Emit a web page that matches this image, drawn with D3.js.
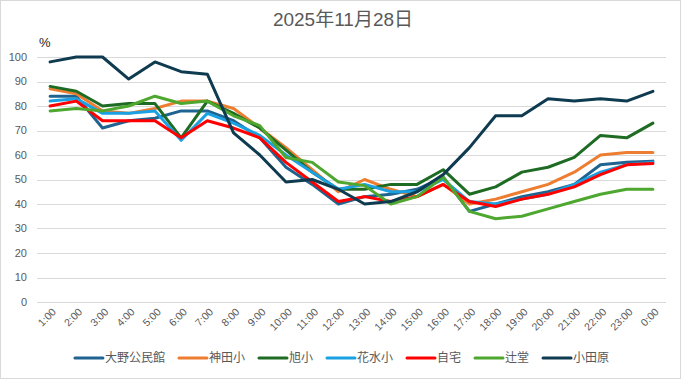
<!DOCTYPE html>
<html>
<head>
<meta charset="utf-8">
<script src="https://cdn.jsdelivr.net/npm/d3@7"></script>
<style>
body{margin:0;background:#fff;}
svg{display:block;}
</style>
</head>
<body>
<div id="chart"></div>
<script>
// data
var hours = ['1:00','2:00','3:00','4:00','5:00','6:00','7:00','8:00','9:00','10:00','11:00','12:00',
	'13:00','14:00','15:00','16:00','17:00','18:00','19:00','20:00','21:00','22:00','23:00','0:00'];
var yTicks = [0,10,20,30,40,50,60,70,80,90,100];
var seriesNames = ['大野公民館','神田小','旭小','花水小','自宅','辻堂','小田原'];
var seriesColors = ['#1f6391','#ed7d31','#1e6b24','#1ba1e2','#ff0000','#4ea72e','#0e3b50'];

var oono     = [84,84,71,74,75,78,78,74,67,55,48,40,43,44,46,51,37,40,43,45,48,56,57,57.5];
var kanda    = [87,85,78,77,79,82,82,79,71,63,54,45,50,46,43,48,40,42,45,48,53,60,61,61];
var asahi    = [88,86,80,81,81,67,82,77,71,62,53,46,46,48,48,54,44,47,53,55,59,68,67,73];
var hanamizu = [82,83,77,77,78,66,77,73,68,60,53,46,48,45,45,50,41,40,42,44,48,53,56,57];
var jitaku   = [80,82,74,74,74,67,74,71,67,57,49,41,43,41,43,48,41,39,42,44,47,52,56,56.5];
var tsujido  = [78,79,78,80,84,81,82,76,72,59,57,49,47.5,40,43,51,37,34,35,38,41,44,46,46];
var odawara  = [98,100,100,91,98,94,93,69,60,49,50,46,40,41,45,52,63,76,76,83,82,83,82,86];

var seriesValues = [oono, kanda, asahi, hanamizu, jitaku, tsujido, odawara];

var W = 681, H = 379;
var textColor = '#595959';
var font = '"Liberation Sans", Arial, "Noto Sans CJK JP", sans-serif';

var svg = d3.select('#chart').append('svg')
	.attr('width', W)
	.attr('height', H);

svg.append('rect')//border
	.attr('x', 0.5).attr('y', 0.5)
	.attr('width', W - 1).attr('height', H - 1)
	.attr('fill', '#fff')
	.attr('stroke', '#d9d9d9');

var x = d3.scalePoint().domain(hours).range([37, 666]).padding(0.5);
var y = d3.scaleLinear().domain([0, 100]).range([302, 57]);

// grid
svg.append('g')
	.selectAll('line')
	.data(yTicks)
	.join('line')
	.attr('x1', 37).attr('x2', 666)
	.attr('y1', function(d){ return Math.round(y(d)) + 0.5; })
	.attr('y2', function(d){ return Math.round(y(d)) + 0.5; })
	.attr('stroke', '#d9d9d9')
	.attr('stroke-width', 1);

// y labels
svg.append('g')
	.selectAll('text')
	.data(yTicks)
	.join('text')
	.attr('x', 27)
	.attr('y', function(d){ return y(d); })
	.attr('dy', '0.35em')
	.attr('text-anchor', 'end')
	.attr('font-family', font)
	.attr('font-size', 11)
	.attr('fill', textColor)
	.text(function(d){ return d; });

// x labels
svg.append('g')
	.selectAll('text')
	.data(hours)
	.join('text')
	.attr('transform', function(d){ return 'translate(' + (x(d) + 4) + ',310) rotate(-45)'; })
	.attr('dy', '0.35em')
	.attr('text-anchor', 'end')
	.attr('font-family', font)
	.attr('font-size', 10.5)
	.attr('fill', textColor)
	.text(function(d){ return d; });

svg.append('text')//unit
	.attr('x', 39).attr('y', 47)
	.attr('font-family', font)
	.attr('font-size', 13)
	.attr('fill', '#222')
	.text('%');

svg.append('text')//title
	.attr('x', 343).attr('y', 25.5)
	.attr('text-anchor', 'middle')
	.attr('font-family', font)
	.attr('font-size', 19)
	.attr('fill', textColor)
	.text('2025年11月28日');

// lines
var line = d3.line()
	.x(function(d, i){ return x(hours[i]); })
	.y(function(d){ return y(d); });

svg.append('g')
	.selectAll('path')
	.data(seriesValues)
	.join('path')
	.attr('d', line)
	.attr('fill', 'none')
	.attr('stroke', function(d, i){ return seriesColors[i]; })
	.attr('stroke-width', 3)
	.attr('stroke-linejoin', 'round')
	.attr('stroke-linecap', 'round');

// legend
var legend = svg.append('g');
var lx = 0, items = [];
for (var i = 0; i < seriesNames.length; i++){
	var item = legend.append('g');
	item.append('line')
		.attr('x1', 0).attr('x2', 28)
		.attr('y1', 0).attr('y2', 0)
		.attr('stroke', seriesColors[i])
		.attr('stroke-width', 3)
		.attr('stroke-linecap', 'round');
	var t = item.append('text')
		.attr('x', 30).attr('y', 0)
		.attr('dy', '0.35em')
		.attr('font-family', font)
		.attr('font-size', 12)
		.attr('fill', textColor)
		.text(seriesNames[i]);
	item.attr('transform', 'translate(' + lx + ',0)');
	lx += 30 + t.node().getComputedTextLength() + 14;
}
lx -= 14;
legend.attr('transform', 'translate(' + (342 - lx / 2) + ',358)');
</script>
</body>
</html>
